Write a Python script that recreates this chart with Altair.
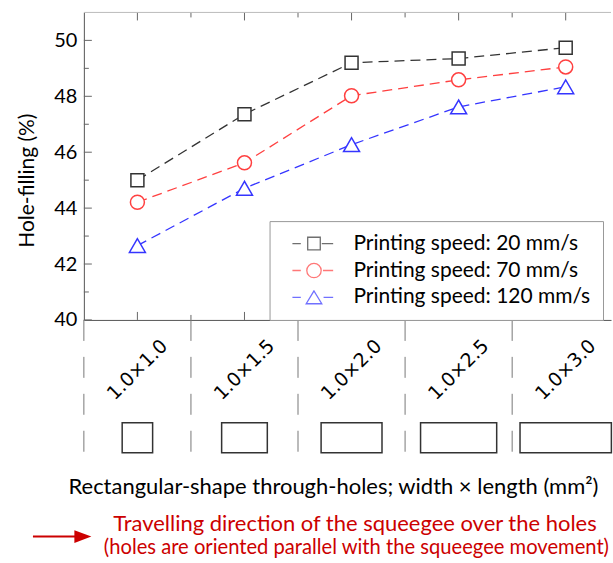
import altair as alt
import pandas as pd

# ---------------- data ----------------
positions = [1, 2, 3, 4, 5]
hole_labels = ["1.0×1.0", "1.0×1.5", "1.0×2.0", "1.0×2.5", "1.0×3.0"]
hole_width_mm = [1.0, 1.0, 1.0, 1.0, 1.0]
hole_length_mm = [1.0, 1.5, 2.0, 2.5, 3.0]

series_names = [
    "Printing speed: 20 mm/s",
    "Printing speed: 70 mm/s",
    "Printing speed: 120 mm/s",
]
speed_20 = [45.00, 47.36, 49.20, 49.35, 49.74]
speed_70 = [44.21, 45.62, 48.02, 48.59, 49.05]
speed_120 = [42.66, 44.71, 46.27, 47.62, 48.34]

y_major = [40, 42, 44, 46, 48, 50]
y_minor = [41, 43, 45, 47, 49]
x_major = [1, 2, 3, 4, 5]
x_minor = [1.5, 2.5, 3.5, 4.5]
separators = [0.5, 1.5, 2.5, 3.5, 4.5]

y_title = "Hole-filling (%)"
x_title = "Rectangular-shape through-holes; width × length (mm²)"
note_line1 = "Travelling direction of the squeegee over the holes"
note_line2 = "(holes are oriented parallel with the squeegee movement)"

# ---------------- layout / style ----------------
FONT = "Lato"
W = 528
H = 308
HB = 135
STEP_PX = 107.25
XMIN = 0.5
XMAX = XMIN + W / STEP_PX
MM_PX = 30.5
colors = ["#333333", "#ff4040", "#3535ff"]
shapes = ["square", "circle", "triangle-up"]
sizes = [169, 196, 256]
RED = "#cc0000"

xscale = alt.Scale(domain=[XMIN, XMAX], nice=False, zero=False)
yscale = alt.Scale(domain=[40, 51], nice=False, zero=False)

x_axis_top = alt.Axis(orient="bottom", labels=False, ticks=False, grid=False,
                      domain=True, domainColor="#555555", title=None)
y_axis = alt.Axis(orient="left", values=y_major, ticks=False, tickSize=0, grid=False,
                  domain=True, domainColor="#555555", labelFont=FONT, labelFontSize=20,
                  labelColor="black", labelPadding=7, title=y_title, titleFont=FONT,
                  titleFontSize=21, titleFontWeight="normal", titleColor="black",
                  titleX=-46, titleY=168, titleAngle=270, titleAlign="center",
                  titleBaseline="bottom")

rows = []
for name, vals in zip(series_names, [speed_20, speed_70, speed_120]):
    for p, v in zip(positions, vals):
        rows.append({"pos": p, "series": name, "value": v})
df = pd.DataFrame(rows)

X = alt.X("pos:Q", scale=xscale, axis=x_axis_top)
Y = alt.Y("value:Q", scale=yscale, axis=y_axis)

# inward ticks
def yticks(vals, length):
    return alt.Chart(pd.DataFrame({"value": vals})).mark_rule(color="#666666", strokeWidth=1).encode(
        y=alt.Y("value:Q", scale=yscale, title=y_title),
        x=alt.value(0), x2=alt.value(length))

def xticks(vals, y0, y1):
    return alt.Chart(pd.DataFrame({"pos": vals})).mark_rule(color="#666666", strokeWidth=1).encode(
        x=alt.X("pos:Q", scale=xscale, title=None),
        y=alt.value(y0), y2=alt.value(y1))

tick_layers = [
    yticks(y_major, 8), yticks(y_minor, 5),
    xticks(x_major, 0, 8), xticks(x_minor, 0, 5),
    xticks(x_major, H, H - 8), xticks(x_minor, H, H - 5),
]
top_frame = alt.Chart(pd.DataFrame({"a": [0]})).mark_rule(color="#bbbbbb", strokeWidth=1).encode(
    x=alt.value(0), x2=alt.value(W), y=alt.value(0))

line_layers = []
point_layers = []
for name, col, shp, sz in zip(series_names, colors, shapes, sizes):
    sub = df[df["series"] == name]
    line_layers.append(alt.Chart(sub).mark_line(color=col, strokeWidth=1.3, strokeDash=[10, 6]).encode(x=X, y=Y))
    point_layers.append(alt.Chart(sub).mark_point(shape=shp, size=sz, filled=True, fill="white",
                                                  stroke=col, strokeWidth=1.5, opacity=1).encode(x=X, y=Y))

legend_paths = [
    "M-3.6,0H-2.2M-1.05,-1.05H1.05V1.05H-1.05ZM1.3,0H3.2",
    "M-3.6,0H-2.2M-1.2,0A1.2,1.2,0,1,1,1.2,0A1.2,1.2,0,1,1,-1.2,0ZM1.5,0H3.2",
    "M-3.6,0H-2.2M0,-1.1L-1.3,1.05L1.3,1.05ZM1.6,0H3.2",
]
leg = alt.Legend(title=None, orient="none", legendX=186, legendY=209, padding=12,
                 strokeColor="#999999", fillColor="white", labelFont=FONT, labelFontSize=21,
                 labelColor="black", labelLimit=500, symbolSize=144, symbolStrokeWidth=1.3,
                 symbolOffset=22, labelOffset=29, rowPadding=5)
legend_layer = alt.Chart(pd.DataFrame({"Series": series_names})).mark_point(filled=False, strokeWidth=1.3).encode(
    shape=alt.Shape("Series:N", scale=alt.Scale(domain=series_names, range=legend_paths), legend=leg),
    stroke=alt.Stroke("Series:N", scale=alt.Scale(domain=series_names, range=colors), legend=leg),
).transform_filter("false")

top = alt.layer(*tick_layers, top_frame, *line_layers, *point_layers, legend_layer).properties(
    width=W, height=H, view=alt.ViewBackground(stroke="transparent"))

# ---------------- lower panel ----------------
XB = alt.X("pos:Q", scale=xscale, axis=None)
holes = pd.DataFrame({"pos": positions, "label": hole_labels,
                      "w": hole_width_mm, "l": hole_length_mm})

sep_layer = alt.Chart(pd.DataFrame({"pos": separators})).mark_rule(
    color="#777777", strokeWidth=1, strokeDash=[21, 16]).encode(x=XB, y=alt.value(0), y2=alt.value(HB))

label_layer = alt.Chart(holes).mark_text(angle=315, font="DejaVu Sans", fontSize=19,
                                         color="black", align="center", baseline="middle").encode(
    x=XB, y=alt.value(50), text="label:N")

rect_layer = alt.Chart(holes).transform_calculate(
    lo=f"datum.pos - datum.l * {MM_PX} / 2 / {STEP_PX}",
    hi=f"datum.pos + datum.l * {MM_PX} / 2 / {STEP_PX}",
).mark_rect(fill="white", fillOpacity=0, stroke="#333333", strokeWidth=1.5).encode(
    x=alt.X("lo:Q", scale=xscale, axis=None), x2="hi:Q", y=alt.value(103), y2=alt.value(133))

def text_layer(txt, x, y, color, size):
    return alt.Chart(pd.DataFrame({"t": [txt]})).mark_text(
        font=FONT, fontSize=size, color=color, align="center", baseline="middle").encode(
        text="t:N", x=alt.value(x), y=alt.value(y))

title_layer = text_layer(x_title, 250, 167, "black", 22)
note1 = text_layer(note_line1, 271.5, 204, RED, 22)
note2 = text_layer(note_line2, 273, 228, RED, 20.2)

one = pd.DataFrame({"a": [0]})
arrow_shaft = alt.Chart(one).mark_rule(color=RED, strokeWidth=2).encode(
    x=alt.value(-51), x2=alt.value(-4), y=alt.value(217))
arrow_head = alt.Chart(one).mark_point(shape="M1,0L-1,-0.75L-1,0.75Z", size=289, filled=True,
                                       color=RED, opacity=1).encode(x=alt.value(-1), y=alt.value(217))

bottom = alt.layer(sep_layer, label_layer, rect_layer, title_layer, note1, note2,
                   arrow_shaft, arrow_head).properties(
    width=W, height=HB, view=alt.ViewBackground(stroke="transparent"))

chart = alt.vconcat(top, bottom, spacing=0, bounds="flush").properties(
    padding={"left": 16, "top": 11, "right": 0, "bottom": 0},
    background="white",
)

chart.save("out.html", embed_options={"renderer": "svg", "actions": False})
